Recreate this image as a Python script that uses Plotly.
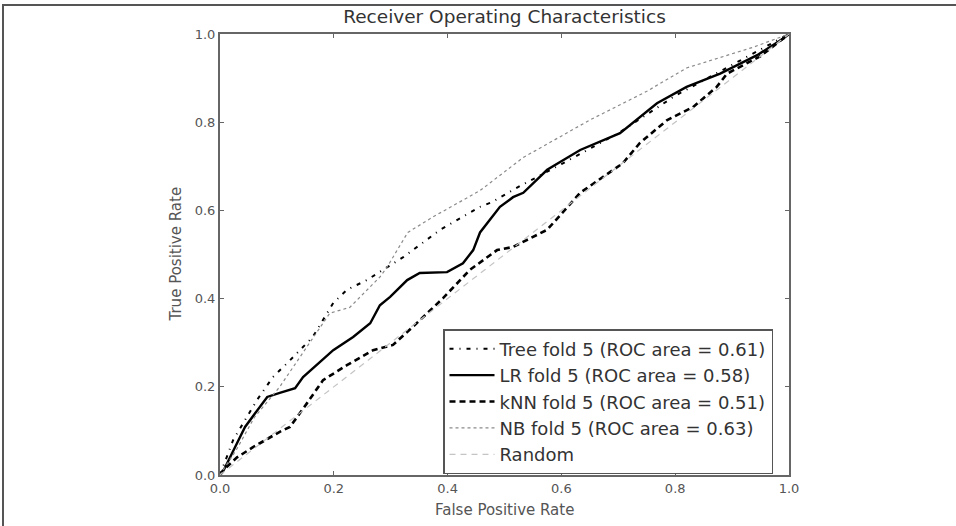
import plotly.graph_objects as go

# ---- data ----
tree_fpr = [0.0, 0.023, 0.065, 0.093, 0.123, 0.163, 0.199, 0.223, 0.258, 0.28, 0.322, 0.387, 0.457, 0.48, 0.527, 0.6, 0.7, 0.8, 0.9, 1.0]
tree_tpr = [0.0, 0.079, 0.17, 0.222, 0.26, 0.313, 0.39, 0.42, 0.442, 0.46, 0.494, 0.556, 0.608, 0.62, 0.655, 0.705, 0.775, 0.86, 0.93, 1.0]

lr_fpr = [0.0, 0.005, 0.044, 0.083, 0.105, 0.132, 0.146, 0.199, 0.234, 0.264, 0.281, 0.299, 0.329, 0.351, 0.399, 0.427, 0.445, 0.457, 0.492, 0.515, 0.533, 0.575, 0.633, 0.703, 0.768, 0.82, 0.879, 0.944, 0.99, 1.0]
lr_tpr = [0.0, 0.007, 0.109, 0.177, 0.186, 0.197, 0.222, 0.283, 0.313, 0.344, 0.385, 0.404, 0.442, 0.458, 0.46, 0.48, 0.51, 0.55, 0.608, 0.63, 0.64, 0.692, 0.737, 0.775, 0.843, 0.88, 0.91, 0.952, 0.99, 1.0]

knn_fpr = [0.0, 0.005, 0.03, 0.058, 0.105, 0.123, 0.153, 0.181, 0.223, 0.269, 0.304, 0.339, 0.392, 0.439, 0.487, 0.515, 0.575, 0.633, 0.708, 0.738, 0.786, 0.831, 0.873, 0.891, 0.95, 1.0]
knn_tpr = [0.0, 0.01, 0.04, 0.063, 0.098, 0.109, 0.163, 0.215, 0.249, 0.283, 0.295, 0.336, 0.401, 0.465, 0.51, 0.517, 0.556, 0.64, 0.707, 0.753, 0.805, 0.834, 0.88, 0.91, 0.95, 1.0]

nb_fpr = [0.0, 0.03, 0.06, 0.105, 0.193, 0.228, 0.281, 0.293, 0.33, 0.374, 0.457, 0.533, 0.65, 0.75, 0.82, 0.937, 1.0]
nb_tpr = [0.0, 0.06, 0.13, 0.2, 0.367, 0.38, 0.449, 0.47, 0.55, 0.585, 0.645, 0.72, 0.805, 0.87, 0.923, 0.97, 1.0]

rand_fpr = [0.0, 1.0]
rand_tpr = [0.0, 1.0]

names = ["Tree fold 5 (ROC area = 0.61)", "LR fold 5 (ROC area = 0.58)",
         "kNN fold 5 (ROC area = 0.51)", "NB fold 5 (ROC area = 0.63)", "Random"]
tick_vals = [0.0, 0.2, 0.4, 0.6, 0.8, 1.0]
tick_text = ["0.0", "0.2", "0.4", "0.6", "0.8", "1.0"]

FONT = "DejaVu Sans"

fig = go.Figure()
fig.add_trace(go.Scatter(x=tree_fpr, y=tree_tpr, mode="lines", name=names[0],
                         line=dict(color="black", width=2, dash="4px,6px,1px,6px")))
fig.add_trace(go.Scatter(x=lr_fpr, y=lr_tpr, mode="lines", name=names[1],
                         line=dict(color="black", width=2.4)))
fig.add_trace(go.Scatter(x=knn_fpr, y=knn_tpr, mode="lines", name=names[2],
                         line=dict(color="black", width=2.6, dash="6px,4px")))
fig.add_trace(go.Scatter(x=nb_fpr, y=nb_tpr, mode="lines", name=names[3],
                         line=dict(color="#8a8a8a", width=1.2, dash="dot")))
fig.add_trace(go.Scatter(x=rand_fpr, y=rand_tpr, mode="lines", name=names[4],
                         line=dict(color="#c4c4c4", width=1.2, dash="6px,5px")))

L, R, T, B = 220, 167, 34, 51
W, H = 956, 526
pw, ph = W - L - R, H - T - B

def px_x(p):
    return (p - L) / pw

def px_y(p):
    return (H - B - p) / ph

axis_common = dict(range=[0, 1], tickvals=tick_vals, ticktext=tick_text,
                   ticks="inside", ticklen=4, tickcolor="#666", showline=True,
                   linecolor="#666", linewidth=2, mirror="ticks", showgrid=False,
                   zeroline=False, tickfont=dict(family=FONT, size=13, color="#555"))

fig.update_layout(
    width=W, height=H,
    margin=dict(l=L, r=R, t=T, b=B),
    paper_bgcolor="white", plot_bgcolor="white",
    title=dict(text="Receiver Operating Characteristics", x=0.5, xref="paper",
               y=1 - 17 / H, yref="container", xanchor="center", yanchor="middle",
               font=dict(family=FONT, size=18.5, color="#333")),
    xaxis=dict(**axis_common),
    yaxis=dict(**axis_common),
    showlegend=True,
    legend=dict(x=px_x(443), y=px_y(329), xanchor="left", yanchor="top",
                bgcolor="white", bordercolor="#555", borderwidth=1.5,
                font=dict(family=FONT, size=18, color="#333"),
                tracegroupgap=0, itemwidth=45),
    annotations=[
        dict(text="False Positive Rate", xref="paper", yref="paper", x=0.5, y=px_y(510),
             xanchor="center", yanchor="middle", showarrow=False,
             font=dict(family=FONT, size=15, color="#555")),
        dict(text="True Positive Rate", xref="paper", yref="paper", x=px_x(175), y=0.5,
             xanchor="center", yanchor="middle", showarrow=False, textangle=-90,
             font=dict(family=FONT, size=15, color="#555")),
    ],
    shapes=[
        dict(type="line", xref="paper", yref="paper", x0=px_x(2), x1=px_x(W + 5),
             y0=px_y(5), y1=px_y(5), line=dict(color="#555", width=2)),
        dict(type="line", xref="paper", yref="paper", x0=px_x(3), x1=px_x(3),
             y0=px_y(4), y1=px_y(H + 5), line=dict(color="#555", width=2)),
    ],
)

fig.write_html("out.html", config={"displayModeBar": False},
               post_script="document.body.style.margin='0px';")
